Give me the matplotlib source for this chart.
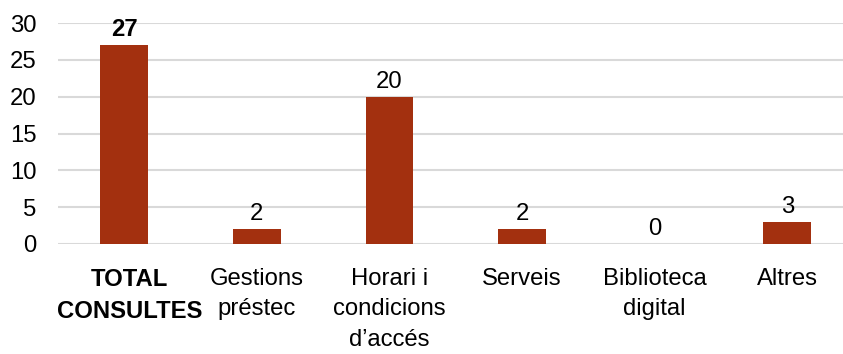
import matplotlib
matplotlib.use('Agg')
from matplotlib import pyplot as plt
from matplotlib.transforms import ScaledTranslation

plt.rcParams['font.family'] = ['Liberation Sans', 'DejaVu Sans']

categories = ['TOTAL\nCONSULTES', 'Gestions\npréstec', 'Horari i\ncondicions\nd\u2019accés',
              'Serveis', 'Biblioteca\ndigital', 'Altres']
values = [27, 2, 20, 2, 0, 3]
bar_color = '#A3300F'
fs = 17.2

fig = plt.figure(figsize=(8.43, 3.54), dpi=100)
ax = fig.add_axes([58/843, 1 - 244/354, (843 - 58)/843, (244 - 23)/354])

x = list(range(len(values)))
ax.bar(x, values, width=0.36, color=bar_color, zorder=3)

for i, v in enumerate(values):
    ax.annotate(str(v), (i, v), xytext=(0, 3), textcoords='offset points',
                ha='center', va='bottom', fontsize=fs,
                fontweight='bold' if i == 0 else 'normal')

ax.set_ylim(0, 30)
ax.set_xlim(-0.5, 5.42)
ax.set_yticks(range(0, 31, 5))
ax.yaxis.grid(True, color='#D9D9D9', linewidth=1.5, zorder=0)
ax.set_axisbelow(True)
for s in ax.spines.values():
    s.set_visible(False)
ax.tick_params(axis='both', length=0, labelsize=fs)
ax.tick_params(axis='y', pad=15.5)
ax.tick_params(axis='x', pad=17.5)

ax.set_xticks(x)
ax.set_xticklabels(categories, linespacing=1.48, va='top')
first = ax.get_xticklabels()[0]
first.set_fontweight('bold')
# nudge the wide bold label a little to the right
first.set_transform(first.get_transform() + ScaledTranslation(5/100, 0, fig.dpi_scale_trans))

fig.savefig('out.png', dpi=100)
